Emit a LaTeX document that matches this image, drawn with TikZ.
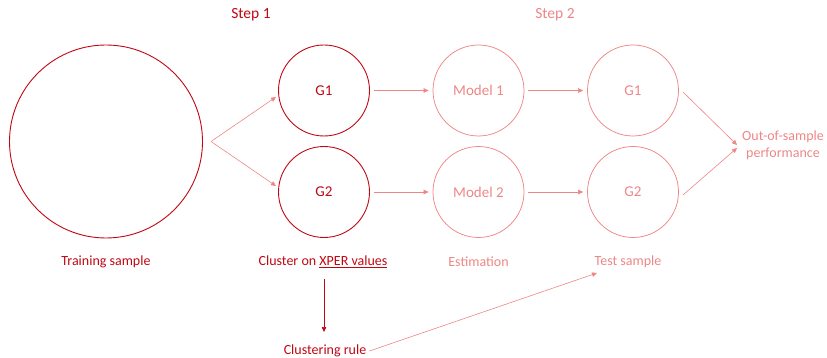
\documentclass[tikz,border=0pt]{standalone}
\usepackage{fontspec}
\setmainfont{Carlito}
\usetikzlibrary{arrows.meta}
\definecolor{darkred}{RGB}{192,8,20}
\definecolor{softred}{RGB}{238,134,134}
\tikzset{
  txt/.style={font=\fontsize{14}{17}\selectfont},
  grp/.style={circle, draw=darkred, line width=0.9pt, minimum size=91pt, inner sep=0pt, text=darkred, font=\fontsize{15}{17}\selectfont},
  soft/.style={circle, draw=softred, line width=0.75pt, minimum size=91pt, inner sep=0pt, text=softred, font=\fontsize{15}{17}\selectfont},
  lbl/.style={text=#1, txt, inner sep=1pt, align=center},
  head/.style={text=#1, font=\fontsize{15.5}{18}\selectfont, inner sep=1pt},
  flow/.style={draw=#1, line width=0.6pt, -{Triangle[length=5pt,width=4.5pt]}},
}
\begin{document}
\begin{tikzpicture}[x=1pt,y=-1pt]
  \useasboundingbox (0,0) rectangle (827,358);

  % headings
  \node[head=darkred] (s1) at (251,15) {Step 1};
  \node[head=softred] (s2) at (555,15) {Step 2};

  % training sample
  \node[circle, draw=darkred, line width=0.9pt, minimum size=193pt, inner sep=0pt] (train) at (106,141.5) {};
  \coordinate (split) at (211,141.5);

  % step 1 groups
  \node[grp] (g1) at (324,90.5) {G1};
  \node[grp] (g2) at (324,192) {G2};

  % step 2
  \node[soft] (m1) at (478.5,90.5) {Model 1};
  \node[soft] (m2) at (478.5,192) {Model 2};
  \node[soft] (t1) at (633,90.5) {G1};
  \node[soft] (t2) at (633,192) {G2};

  % labels under the columns
  \node[lbl=darkred] (ltrain) at (106,262) {Training sample};
  \node[lbl=darkred] (lclust) at (323,262) {Cluster on \underline{XPER values}};
  \node[lbl=softred] (lest) at (478.5,262) {Estimation};
  \node[lbl=softred] (ltest) at (628,262) {Test sample};
  \node[lbl=darkred] (rule) at (325,351) {Clustering rule};
  \node[lbl=softred] (perf) at (783,145.5) {Out-of-sample\\performance};
  \coordinate (perfin1) at (737,145);
  \coordinate (perfin2) at (737,148);

  % connectors
  \draw[flow=softred] (split) -- (276,97);
  \draw[flow=softred] (split) -- (276,186);
  \draw[flow=softred] ([xshift=4pt]g1.east) -- ([xshift=-4pt]m1.west);
  \draw[flow=softred] ([xshift=4pt]g2.east) -- ([xshift=-4pt]m2.west);
  \draw[flow=softred] ([xshift=4pt]m1.east) -- ([xshift=-4pt]t1.west);
  \draw[flow=softred] ([xshift=4pt]m2.east) -- ([xshift=-4pt]t2.west);
  \draw[flow=softred] (683,92) -- (perfin1);
  \draw[flow=softred] (683,195) -- (perfin2);
  \draw[flow=darkred] (324,279) -- (324,332);
  \draw[flow=softred] ([xshift=2pt]rule.east) -- (597,273);
\end{tikzpicture}
\end{document}
